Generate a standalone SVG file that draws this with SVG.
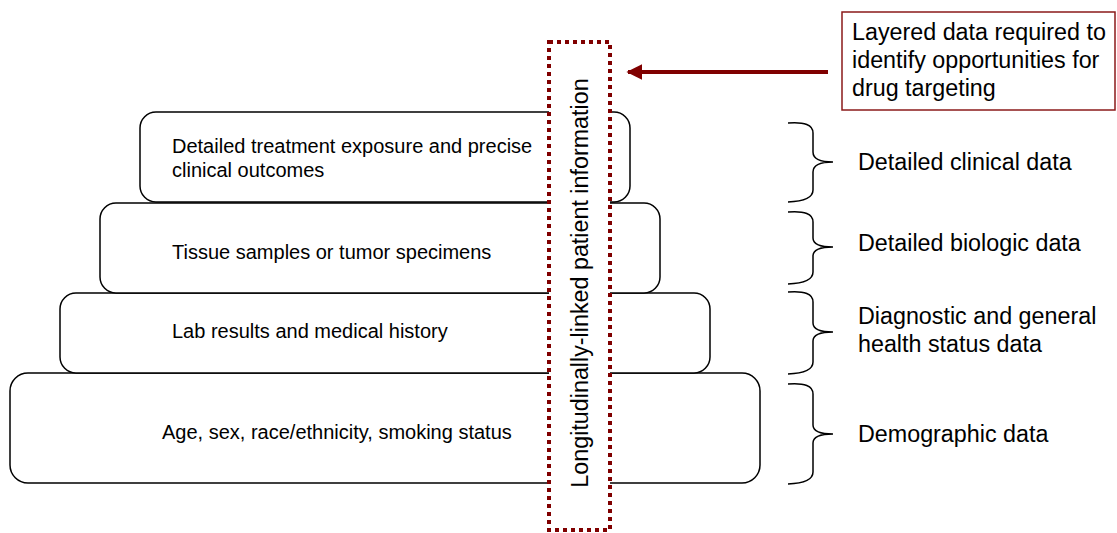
<svg xmlns="http://www.w3.org/2000/svg" width="1117" height="533" viewBox="0 0 1117 533">
<style>
.tier{fill:#fff;stroke:#000;stroke-width:1.5}
.t{font-family:"Liberation Sans",Arial,sans-serif;font-size:20px;fill:#000}
.lbl{font-family:"Liberation Sans",Arial,sans-serif;font-size:23.3px;fill:#000}
.brace{fill:none;stroke:#000;stroke-width:1.5}
</style>
<defs>
<marker id="ah" viewBox="0 0 10 10" refX="9" refY="5" markerWidth="4" markerHeight="4" orient="auto" markerUnits="strokeWidth">
<path d="M0,0 L10,5 L0,10 Z" fill="#800000"/>
</marker>
</defs>
<rect width="1117" height="533" fill="#fff"/>
<g id="tier4"><rect class="tier" x="10" y="373" width="750" height="110" rx="18"/><text class="t" x="162" y="439">Age, sex, race/ethnicity, smoking status</text></g>
<g id="tier3"><rect class="tier" x="60" y="293" width="650" height="80" rx="16"/><text class="t" x="172" y="338">Lab results and medical history</text></g>
<g id="tier2"><rect class="tier" x="100" y="203" width="560" height="90" rx="16"/><text class="t" x="172" y="259">Tissue samples or tumor specimens</text></g>
<g id="tier1"><rect class="tier" x="140" y="112" width="490" height="90" rx="16"/><text class="t" x="172" y="153">Detailed treatment exposure and precise</text><text class="t" x="172" y="177">clinical outcomes</text></g>
<g id="longitudinal"><rect x="549" y="42" width="61" height="488" fill="#fff" stroke="#800000" stroke-width="4" stroke-dasharray="4,4"/><text class="lbl" transform="translate(588,283) rotate(-90)" text-anchor="middle" font-size="22.5">Longitudinally-linked patient information</text></g>
<g id="callout"><rect x="842" y="12" width="273" height="98" fill="#fff" stroke="#8b1a1a" stroke-width="1.5"/><text class="lbl" x="852" y="40" font-size="23.5">Layered data required to</text><text class="lbl" x="852" y="68" font-size="23.5">identify opportunities for</text><text class="lbl" x="852" y="96" font-size="23.5">drug targeting</text></g>
<g id="connectors">
<line x1="828" y1="72" x2="628" y2="72" stroke="#800000" stroke-width="4" marker-end="url(#ah)"/>
<path class="brace" d="M788,123 Q813,121 813,133 L813,152 Q813,162 833,162 Q813,162 813,172 L813,190 Q813,201 788,202"/>
<path class="brace" d="M788,212 Q813,210 813,222 L813,238 Q813,247 833,247 Q813,247 813,256 L813,272 Q813,283 788,284"/>
<path class="brace" d="M788,292 Q813,290 813,302 L813,323 Q813,332 833,332 Q813,332 813,341 L813,362 Q813,373 788,374"/>
<path class="brace" d="M788,384 Q813,382 813,394 L813,425 Q813,434 833,434 Q813,434 813,443 L813,472 Q813,483 788,484"/>
</g>
<g id="labels">
<text class="lbl" x="858" y="170">Detailed clinical data</text>
<text class="lbl" x="858" y="251">Detailed biologic data</text>
<text class="lbl" x="858" y="324">Diagnostic and general</text>
<text class="lbl" x="858" y="352">health status data</text>
<text class="lbl" x="858" y="442">Demographic data</text>
</g>
</svg>
